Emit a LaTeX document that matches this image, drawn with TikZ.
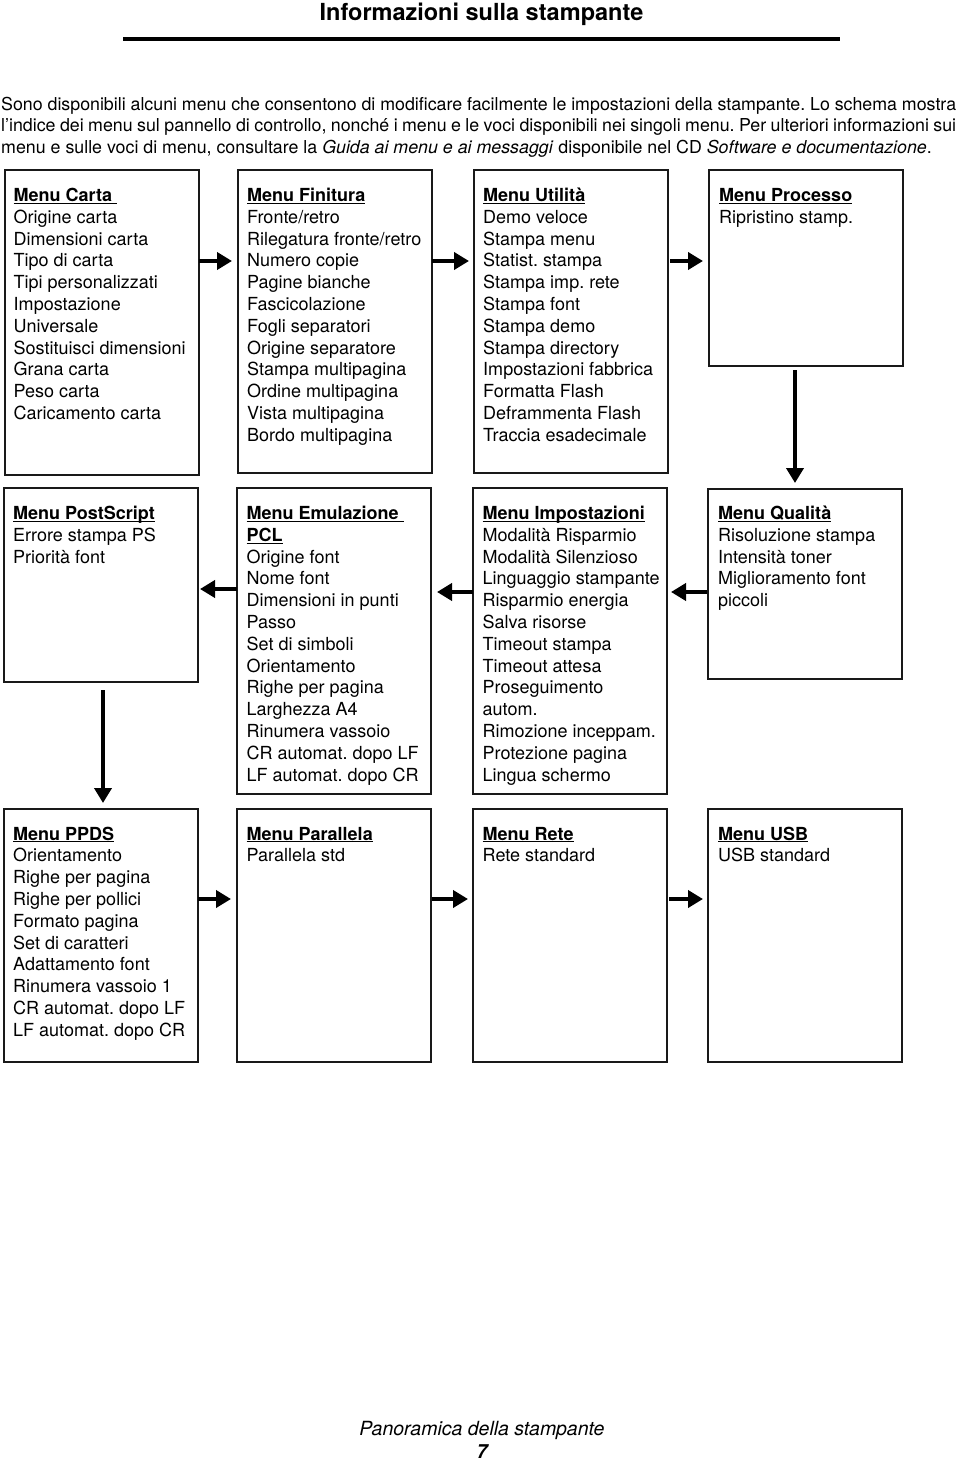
\documentclass[tikz,border=0pt]{standalone}
\usepackage{fontspec}
\setmainfont{TeX Gyre Heros}
\usetikzlibrary{arrows.meta,calc}
\frenchspacing
\newsavebox\ulbox
\newcommand\myul[1]{\leavevmode\sbox\ulbox{#1}\rlap{\rule[-2.4pt]{\wd\ulbox}{1.2pt}}\usebox\ulbox}
\newcommand\hd[1]{\myul{\textbf{#1}}}
\begin{document}
\begin{tikzpicture}[x=1pt,y=-1pt,
  mbox/.style={draw=black!90, line width=1.6pt, minimum width=194pt, anchor=north west, inner sep=0pt, outer sep=0pt},
  mtxt/.style={anchor=base west, inner sep=0pt, font=\fontsize{18}{21.8}\selectfont},
  para/.style={anchor=base west, inner sep=0pt, font=\fontsize{17.8}{21.8}\selectfont},
  arr/.style={line width=4pt, draw=black, -{Triangle[length=15pt,width=17pt]}}]
\useasboundingbox (0,0) rectangle (960,1463);
\fill[white] (0,0) rectangle (960,1463);

% header
\node[anchor=base, inner sep=0pt, font=\fontsize{23.5}{28}\selectfont\bfseries] (title) at (481.5,20.5) {Informazioni sulla stampante};
\draw[line width=4pt] (123,39) -- (840,39);

% introduction
\node[para] (p1) at (1,110.5) {\makebox[955pt][s]{Sono disponibili alcuni menu che consentono di modificare facilmente le impostazioni della stampante. Lo schema mostra}};
\node[para] (p2) at (1,132) {\makebox[955pt][s]{l'indice dei menu sul pannello di controllo, nonché i menu e le voci disponibili nei singoli menu. Per ulteriori informazioni sui}};
\node[para] (p3) at (1,153.5) {menu e sulle voci di menu, consultare la \textit{Guida ai menu e ai messaggi} disponibile nel CD \textit{Software e documentazione}.};

% row 1
\node[mbox, minimum height=305pt] (carta) at (5,170) {};
\node[mbox, minimum height=303pt] (finitura) at (238,170) {};
\node[mbox, minimum height=303pt] (utilita) at (474,170) {};
\node[mbox, minimum height=196pt] (processo) at (709,170) {};
% row 2
\node[mbox, minimum height=194pt] (postscript) at (4,488) {};
\node[mbox, minimum height=306pt] (emul) at (237,488) {};
\node[mbox, minimum height=306pt] (impost) at (473,488) {};
\node[mbox, minimum height=190pt] (qualita) at (708,489) {};
% row 3
\node[mbox, minimum height=253pt] (ppds) at (4,809) {};
\node[mbox, minimum height=253pt] (parallela) at (237,809) {};
\node[mbox, minimum height=253pt] (rete) at (473,809) {};
\node[mbox, minimum height=253pt] (usb) at (708,809) {};

% texts
\node[mtxt] (cartaT) at ($(carta.north west)+(8.5,31.5)$) {\parbox[t]{200pt}{\hd{Menu Carta\ }\\Origine carta\\Dimensioni carta\\Tipo di carta\\Tipi personalizzati\\Impostazione\\Universale\\Sostituisci dimensioni\\Grana carta\\Peso carta\\Caricamento carta}};
\node[mtxt] (finituraT) at ($(finitura.north west)+(9,31.5)$) {\parbox[t]{200pt}{\hd{Menu Finitura}\\Fronte/retro\\Rilegatura fronte/retro\\Numero copie\\Pagine bianche\\Fascicolazione\\Fogli separatori\\Origine separatore\\Stampa multipagina\\Ordine multipagina\\Vista multipagina\\Bordo multipagina}};
\node[mtxt] (utilitaT) at ($(utilita.north west)+(9,31.5)$) {\parbox[t]{200pt}{\hd{Menu Utilità}\\Demo veloce\\Stampa menu\\Statist. stampa\\Stampa imp. rete\\Stampa font\\Stampa demo\\Stampa directory\\Impostazioni fabbrica\\Formatta Flash\\Deframmenta Flash\\Traccia esadecimale}};
\node[mtxt] (processoT) at ($(processo.north west)+(10,31.5)$) {\parbox[t]{200pt}{\hd{Menu Processo}\\Ripristino stamp.}};

\node[mtxt] (postscriptT) at ($(postscript.north west)+(9,31.5)$) {\parbox[t]{200pt}{\hd{Menu PostScript}\\Errore stampa PS\\Priorità font}};
\node[mtxt] (emulT) at ($(emul.north west)+(9.5,31.5)$) {\parbox[t]{200pt}{\hd{Menu Emulazione\ }\\\hd{PCL}\\Origine font\\Nome font\\Dimensioni in punti\\Passo\\Set di simboli\\Orientamento\\Righe per pagina\\Larghezza A4\\Rinumera vassoio\\CR automat. dopo LF\\LF automat. dopo CR}};
\node[mtxt] (impostT) at ($(impost.north west)+(9.5,31.5)$) {\parbox[t]{200pt}{\hd{Menu Impostazioni}\\Modalità Risparmio\\Modalità Silenzioso\\Linguaggio stampante\\Risparmio energia\\Salva risorse\\Timeout stampa\\Timeout attesa\\Proseguimento\\autom.\\Rimozione inceppam.\\Protezione pagina\\Lingua schermo}};
\node[mtxt] (qualitaT) at ($(qualita.north west)+(10,30.5)$) {\parbox[t]{200pt}{\hd{Menu Qualità}\\Risoluzione stampa\\Intensità toner\\Miglioramento font\\piccoli}};

\node[mtxt] (ppdsT) at ($(ppds.north west)+(9,31)$) {\parbox[t]{200pt}{\hd{Menu PPDS}\\Orientamento\\Righe per pagina\\Righe per pollici\\Formato pagina\\Set di caratteri\\Adattamento font\\Rinumera vassoio 1\\CR automat. dopo LF\\LF automat. dopo CR}};
\node[mtxt] (parallelaT) at ($(parallela.north west)+(9.5,31)$) {\parbox[t]{200pt}{\hd{Menu Parallela}\\Parallela std}};
\node[mtxt] (reteT) at ($(rete.north west)+(9.5,31)$) {\parbox[t]{200pt}{\hd{Menu Rete}\\Rete standard}};
\node[mtxt] (usbT) at ($(usb.north west)+(10,31)$) {\parbox[t]{200pt}{\hd{Menu USB}\\USB standard}};

% arrows row 1
\draw[arr] ($(carta.north east)+(0,91)$) -- ($(finitura.north west)+(-6,91)$);
\draw[arr] ($(finitura.north east)+(0,91)$) -- ($(utilita.north west)+(-5,91)$);
\draw[arr] ($(utilita.north east)+(2,91)$) -- ($(processo.north west)+(-6,91)$);
\draw[arr] ($(processo.south west)+(86,4)$) -- ($(qualita.north west)+(87,-6)$);
% arrows row 2
\draw[arr] ($(qualita.north west)+(-1,103)$) -- ($(impost.north east)+(4,104)$);
\draw[arr] ($(impost.north west)+(0,104)$) -- ($(emul.north east)+(6,104)$);
\draw[arr] ($(emul.north west)+(0,101)$) -- ($(postscript.north east)+(2,101)$);
\draw[arr] ($(postscript.south west)+(99,8)$) -- ($(ppds.north west)+(99,-6)$);
% arrows row 3
\draw[arr] ($(ppds.north east)+(0,90)$) -- ($(parallela.north west)+(-6,90)$);
\draw[arr] ($(parallela.north east)+(1,90)$) -- ($(rete.north west)+(-5,90)$);
\draw[arr] ($(rete.north east)+(2,90)$) -- ($(usb.north west)+(-5,90)$);

% footer
\node[anchor=base, inner sep=0pt, font=\fontsize{19.5}{22}\selectfont\itshape] (foot) at (482,1435.5) {Panoramica della stampante};
\node[anchor=base, inner sep=0pt, font=\fontsize{19.5}{22}\selectfont\bfseries\itshape] (page) at (482,1458) {7};
\end{tikzpicture}
\end{document}
